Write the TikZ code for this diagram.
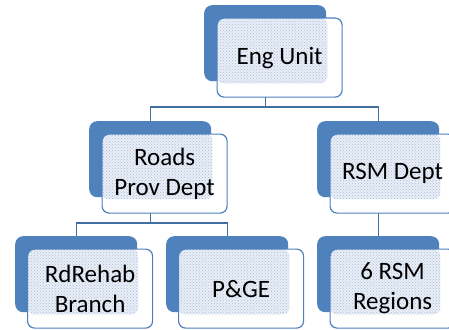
\documentclass[tikz,border=0pt]{standalone}
\usepackage{fontspec}
\setmainfont{Carlito}
\usetikzlibrary{patterns}
\definecolor{accent}{HTML}{4F81BD}
\definecolor{dotc}{HTML}{A9BEDC}
\definecolor{dotbg}{HTML}{E9EEF6}
\begin{document}
\begin{tikzpicture}[x=1pt,y=1pt,
 backbox/.style={draw=none, fill=accent, rounded corners=8pt, minimum width=122pt, minimum height=76pt, anchor=north west, inner sep=0pt},
 frontbox/.style={draw=accent, line width=1.2pt, fill=white, rounded corners=7pt, minimum width=125pt, minimum height=79pt, anchor=north west, align=center, inner sep=0pt, font=\fontsize{25}{30}\selectfont,
   path picture={\fill[dotbg] (path picture bounding box.north west) rectangle ([shift={(1pt,-2pt)}]#1.south east);
     \fill[pattern=crosshatch dots, pattern color=dotc] (path picture bounding box.north west) rectangle ([shift={(1pt,-2pt)}]#1.south east);}},
 conn/.style={draw=accent!85!black, line width=1.3pt}]
\useasboundingbox (0,0) rectangle (449,-329);
\clip (0,0) rectangle (449,-329);
\coordinate (h1) at (0,-107);
\coordinate (h2) at (0,-223);
% back boxes
\node[backbox] (eng-b) at (204,-5) {};
\node[backbox] (roads-b) at (89,-121) {};
\node[backbox] (rsm-b) at (317,-121) {};
\node[backbox] (rd-b) at (15,-236) {};
\node[backbox] (pge-b) at (166,-236) {};
\node[backbox] (reg-b) at (317,-236) {};
% connectors
\draw[conn] (eng-b.south) -- (eng-b.south |- h1);
\draw[conn] (roads-b.north) -- (roads-b.north |- h1) -- (rsm-b.north |- h1) -- (rsm-b.north);
\draw[conn] (roads-b.south) -- (roads-b.south |- h2);
\draw[conn] (rd-b.north) -- (rd-b.north |- h2) -- (pge-b.north |- h2) -- (pge-b.north);
\draw[conn] (rsm-b.south) -- (reg-b.north);
% front boxes
\node[frontbox=eng-b] (eng-f) at (216.5,-17.5) {Eng Unit};
\node[frontbox=roads-b] (roads-f) at (101.5,-133.5) {Roads\\Prov Dept};
\node[frontbox=rsm-b] (rsm-f) at (329.5,-133.5) {RSM Dept};
\node[frontbox=rd-b] (rd-f) at (27,-248.5) {RdRehab\\Branch};
\node[frontbox=pge-b] (pge-f) at (178,-248.5) {P\&GE};
\node[frontbox=reg-b] (reg-f) at (329.5,-248.5) {6 RSM\\Regions};
\end{tikzpicture}
\end{document}
